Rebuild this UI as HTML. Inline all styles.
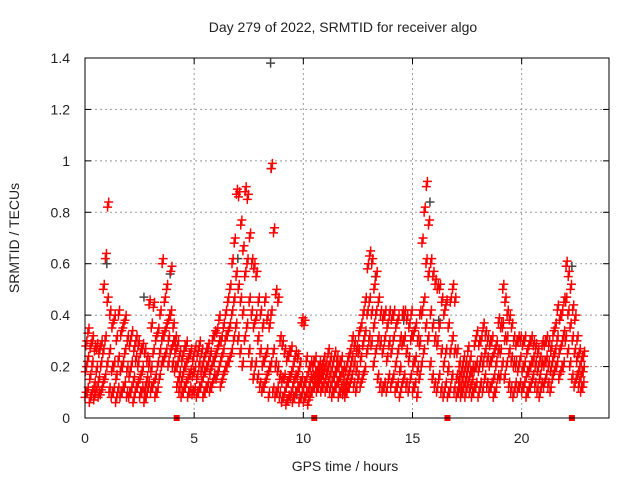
<!DOCTYPE html>
<html><head><meta charset="utf-8"><style>
body{margin:0;background:#fff}
svg text{font-family:"Liberation Sans",sans-serif;font-size:14px;fill:#222}
</style></head><body>
<svg id="c" width="640" height="480" xmlns="http://www.w3.org/2000/svg">
<rect width="640" height="480" fill="#fff"/>
<text x="343" y="32" text-anchor="middle">Day 279 of 2022, SRMTID for receiver algo</text>
<text x="345" y="471" text-anchor="middle">GPS time / hours</text>
<text transform="translate(19,238) rotate(-90)" text-anchor="middle">SRMTID / TECUs</text>
<g id="grid"></g>
<g id="ticks"></g>
<g id="black"></g>
<g id="red"></g>
<rect x="85" y="58" width="524" height="360" fill="none" stroke="#000" stroke-width="1"/>
</svg>
<script>
const xTicks=[0,5,10,15,20];
const yTicks=[0,0.2,0.4,0.6,0.8,1,1.2,1.4];
const yTickLabels=["0","0.2","0.4","0.6","0.8","1","1.2","1.4"];
const groupStepHours=0.1;
// each group: [low, mid, high] in hundredths of TECU, every 0.1 h from 0
const redGroups=[
[8,18,28],[10,22,33],[6,15,27],[9,20,30],[7,12,26],[10,18,27],[8,14,25],[9,20,28],[12,25,50],[15,30,62],
[20,45,82],[10,25,40],[8,18,35],[10,20,38],[6,15,30],[10,22,40],[8,18,32],[10,20,35],[12,25,38],[8,18,30],
[8,16,28],[10,20,32],[6,14,26],[10,22,30],[12,20,28],[8,15,25],[10,18,27],[6,10,25],[8,14,22],[12,20,44],
[10,18,35],[12,25,43],[8,15,30],[10,20,33],[15,25,40],[20,30,60],[22,32,45],[25,35,50],[20,30,38],[25,40,57],
[20,28,35],[18,25,30],[12,20,28],[10,16,24],[8,14,22],[10,18,26],[12,20,28],[8,15,23],[10,17,25],[9,16,22],
[10,18,26],[8,15,24],[10,20,28],[12,18,25],[8,16,22],[10,18,25],[12,20,27],[10,17,24],[12,20,30],[15,22,32],
[15,25,33],[18,28,38],[12,22,30],[15,25,35],[18,30,40],[20,32,45],[22,35,50],[25,40,60],[30,45,68],[35,55,87],
[30,50,86],[25,45,75],[20,40,65],[30,55,88],[35,60,85],[25,45,70],[20,40,60],[15,35,58],[20,38,55],[15,30,45],
[12,25,40],[10,20,35],[12,22,45],[15,25,38],[8,18,35],[20,40,97],[10,25,72],[8,20,48],[10,18,45],[8,15,30],
[6,14,28],[8,15,25],[5,12,22],[7,14,24],[8,16,26],[6,12,20],[8,15,24],[10,16,23],[6,12,20],[8,14,37],
[6,12,36],[8,14,22],[5,10,18],[8,14,20],[10,15,20],[12,16,22],[10,14,18],[12,16,20],[10,15,19],[12,17,22],
[10,15,20],[12,18,25],[10,16,22],[8,14,20],[10,16,24],[12,18,22],[8,14,20],[10,16,22],[9,13,18],[8,12,18],
[10,15,22],[12,18,25],[15,22,30],[12,20,28],[10,18,26],[15,25,32],[12,22,35],[15,28,40],[18,32,45],[25,40,58],
[30,45,63],[28,40,60],[20,35,50],[25,40,55],[15,30,45],[12,28,40],[10,25,38],[12,30,40],[10,22,35],[15,28,40],
[12,25,38],[15,30,40],[10,20,35],[12,25,38],[8,18,30],[12,28,40],[15,30,40],[12,25,38],[10,22,35],[15,30,40],
[10,20,32],[12,22,35],[8,18,30],[15,28,40],[20,40,68],[25,45,80],[35,60,90],[30,55,75],[20,40,60],[15,35,55],
[12,30,52],[10,28,50],[15,35,50],[10,25,45],[8,20,40],[12,25,44],[8,18,35],[10,25,45],[15,30,50],[10,25,45],
[8,15,25],[10,14,20],[8,12,18],[10,16,22],[8,14,20],[12,18,26],[10,16,22],[8,13,18],[10,18,28],[12,20,32],
[8,18,28],[12,22,30],[10,20,35],[15,25,32],[12,22,30],[10,20,28],[12,22,30],[8,15,25],[10,20,28],[15,25,37],
[15,25,35],[20,35,50],[15,30,45],[20,30,40],[12,25,38],[10,22,35],[8,20,30],[12,20,28],[10,18,30],[12,22,30],
[10,18,28],[12,20,30],[8,16,25],[10,18,28],[12,20,30],[15,22,28],[12,20,27],[10,18,25],[8,15,22],[12,20,28],
[12,20,28],[15,22,30],[12,20,28],[10,18,26],[15,22,32],[18,25,35],[20,30,42],[15,25,38],[18,28,40],[20,32,45],
[30,45,59],[25,40,55],[20,35,50],[15,30,42],[12,25,38],[15,22,30],[12,18,25],[10,16,22],[12,18,24]
];
const blackTimes=[8.5,8.52,1.0,3.9,7.0,13.3,15.8,16.2,22.3,14.6,9.7,2.7];
const blackValues=[1.38,0.97,0.6,0.56,0.62,0.55,0.84,0.38,0.59,0.38,0.09,0.47];
const markerTimes=[4.2,10.5,16.6,22.3];

const X0=85,X1=609,Y0=418,Y1=58,XMAX=24,YMAX=1.4;
const sx=t=>X0+(X1-X0)*t/XMAX;
const sy=v=>Y0-(Y0-Y1)*v/YMAX;
const NS="http://www.w3.org/2000/svg";
function mk(tag,parent,attrs){const e=document.createElementNS(NS,tag);for(const k in attrs)e.setAttribute(k,attrs[k]);parent.appendChild(e);return e;}
const grid=document.getElementById('grid'),ticks=document.getElementById('ticks');
xTicks.forEach(t=>{
  const x=sx(t);
  if(t>0){const l=mk('line',grid,{x1:x,x2:x,y1:Y1,y2:Y0,stroke:'#999','stroke-dasharray':'2,3'});
  
  }
  mk('line',ticks,{x1:x,x2:x,y1:Y0,y2:Y0-6,stroke:'#000'});
  mk('line',ticks,{x1:x,x2:x,y1:Y1,y2:Y1+6,stroke:'#000'});
  const tx=mk('text',ticks,{x:x,y:Y0+25,'text-anchor':'middle'});tx.textContent=t;
  
  
});
yTicks.forEach((v,i)=>{
  const y=sy(v);
  if(v>0&&v<YMAX){const l=mk('line',grid,{x1:X0,x2:X1,y1:y,y2:y,stroke:'#999','stroke-dasharray':'2,3'});
  
  }
  mk('line',ticks,{x1:X0,x2:X0+6,y1:y,y2:y,stroke:'#000'});
  mk('line',ticks,{x1:X1,x2:X1-6,y1:y,y2:y,stroke:'#000'});
  const tx=mk('text',ticks,{x:X0-15,y:y+5,'text-anchor':'end'});tx.textContent=yTickLabels[i];
  
  
});
function plus(parent,x,y,col){
  return mk('path',parent,{d:`M${x-4.5} ${y}h9M${x} ${y-4.5}v9`,stroke:col,'stroke-width':1.5,fill:'none'});
}
const bg=document.getElementById('black');
blackTimes.forEach((t,i)=>{
  const p=plus(bg,sx(t),sy(blackValues[i]),'#444');
  
  
});
const rg=document.getElementById('red');
redGroups.forEach((g,i)=>{
  const t=i*groupStepHours;
  g.forEach((v,j)=>{
    [j,j+3].forEach(k=>{
      const p=plus(rg,sx(t+k*groupStepHours/6),sy(v/100+(k>2?0.02:0)),'#f00');
      
      
    });
  });
});
markerTimes.forEach(t=>{
  const r=mk('rect',rg,{x:sx(t)-3,y:Y0-3,width:6,height:6,fill:'#f00'});
  
  
});
</script>
</body></html>
